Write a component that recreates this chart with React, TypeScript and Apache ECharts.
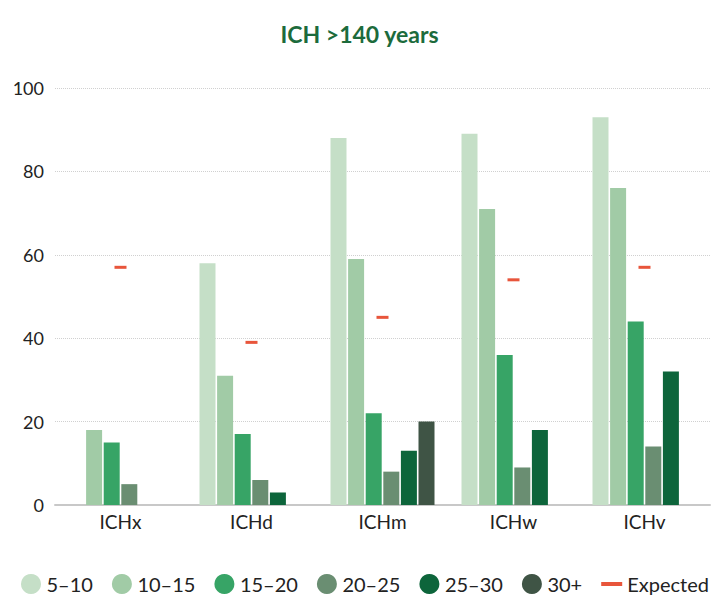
import React, { useEffect, useRef } from "react";
import * as echarts from "echarts";

const categories = ["ICHx", "ICHd", "ICHm", "ICHw", "ICHv"];
const seriesNames = ["5–10", "10–15", "15–20", "20–25", "25–30", "30+"];
const s5_10 = [0, 58, 88, 89, 93];
const s10_15 = [18, 31, 59, 71, 76];
const s15_20 = [15, 17, 22, 36, 44];
const s20_25 = [5, 6, 8, 9, 14];
const s25_30 = [0, 3, 13, 18, 32];
const s30p = [0, 0, 20, 0, 0];
const expected = [57, 39, 45, 54, 57];
const yTicks = [0, 20, 40, 60, 80, 100];

const colors = ["#C5DFC7", "#A1CBA6", "#37A466", "#6A8E72", "#0D653B", "#3F5445"];
const expColor = "#E8553B";

export default function App() {
  const ref = useRef<HTMLDivElement>(null);
  useEffect(() => {
    const chart = echarts.init(ref.current!, null, { renderer: "svg" });
    const values = [s5_10, s10_15, s15_20, s20_25, s25_30, s30p];
    const font = "Lato, 'Open Sans', sans-serif";
    chart.setOption({
      animation: false,
      textStyle: { fontFamily: font },
      title: {
        text: "ICH >140 years",
        left: "center",
        top: 17,
        textStyle: { color: "#1C6B3C", fontSize: 23, fontWeight: "bold", fontFamily: font },
      },
      grid: { left: 55, right: 9, top: 88, bottom: 97 },
      legend: {
        bottom: 3,
        left: 16,
        right: 0,
        padding: [5, 0, 5, 5],
        itemWidth: 21,
        itemHeight: 20,
        itemGap: 19,
        textStyle: { fontSize: 20, color: "#222", fontFamily: font },
        data: [
          ...seriesNames.map((n) => ({ name: n, icon: "circle" })),
          { name: "Expected", icon: "path://M0,0 h21 v4 h-21z" },
        ],
      },
      xAxis: {
        type: "category",
        data: categories,
        axisTick: { show: false },
        axisLine: { lineStyle: { color: "#C8C8C8", width: 2 } },
        axisLabel: { fontSize: 19, color: "#222", margin: 7 },
      },
      yAxis: {
        type: "value",
        min: 0,
        max: 100,
        interval: 20,
        axisLabel: {
          fontSize: 18,
          color: "#222",
          margin: 11,
          formatter: (v: number) => (yTicks.includes(v) ? String(v) : ""),
        },
        splitLine: { lineStyle: { color: "#D0D0D0", type: "dotted", width: 1 } },
      },
      series: [
        ...values.map((d, i) => ({
          name: seriesNames[i],
          type: "bar",
          data: d,
          barWidth: 16,
          barGap: "10%",
          itemStyle: { color: colors[i] },
        })),
        {
          name: "Expected",
          type: "scatter",
          data: expected,
          symbol: "rect",
          symbolSize: [12, 3],
          itemStyle: { color: expColor, opacity: 1 },
          z: 5,
        },
      ],
    });
    return () => chart.dispose();
  }, []);
  return <div ref={ref} style={{ width: 719, height: 602, marginLeft: -8, marginTop: -8 }} />;
}
